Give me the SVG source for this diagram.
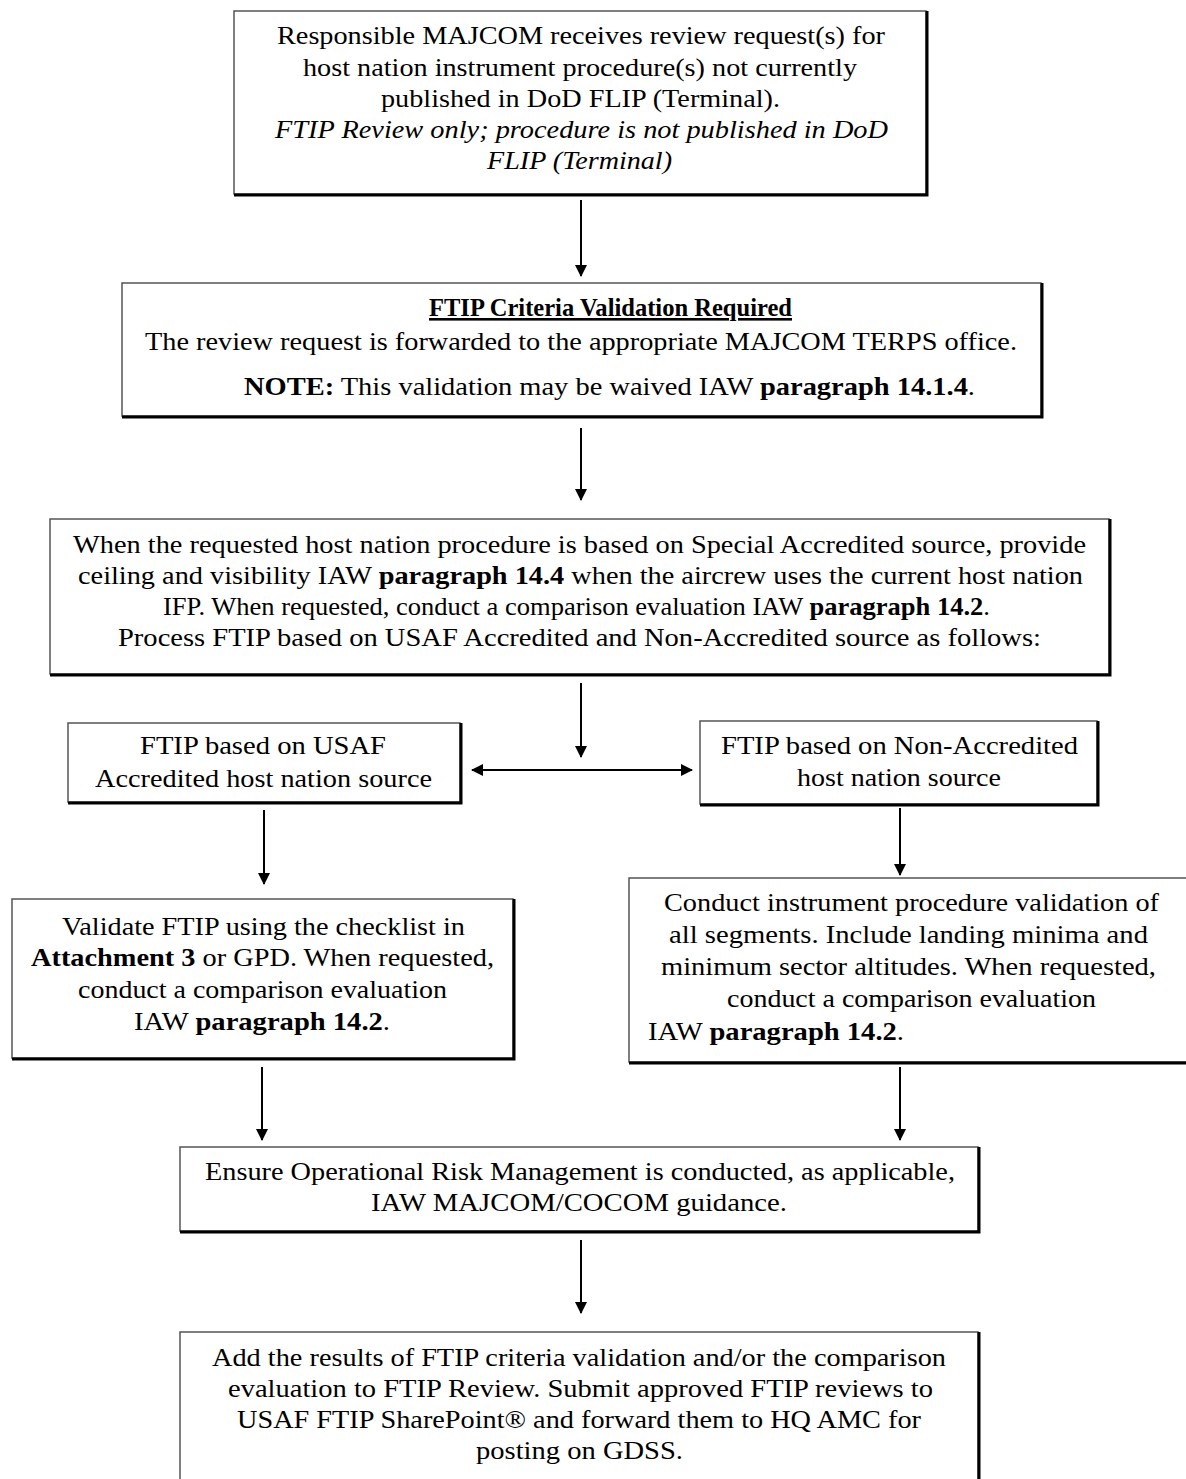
<svg xmlns="http://www.w3.org/2000/svg" width="1186" height="1479" viewBox="0 0 1186 1479" font-family="Liberation Serif, serif" font-size="26">
<defs>
<marker id="ah" markerWidth="12" markerHeight="12" viewBox="0 0 12 12" refX="11" refY="6" orient="auto" markerUnits="userSpaceOnUse">
<path d="M0,0 L12,6 L0,12 Z" fill="#000"/>
</marker>
<marker id="ahs" markerWidth="12" markerHeight="12" viewBox="0 0 12 12" refX="1" refY="6" orient="auto" markerUnits="userSpaceOnUse">
<path d="M12,0 L0,6 L12,12 Z" fill="#000"/>
</marker>
</defs>
<style>
.box{fill:#fff;stroke:#555;stroke-width:1.5}
.sh{fill:none;stroke:#000;stroke-width:3}
.b{font-weight:bold}
.i{font-style:italic}
.con{stroke:#000;stroke-width:2;fill:none}
</style>
<rect width="1186" height="1479" fill="#fff"/>

<g id="connectors">
<line class="con" x1="581" y1="200" x2="581" y2="276" marker-end="url(#ah)"/>
<line class="con" x1="581" y1="428" x2="581" y2="500" marker-end="url(#ah)"/>
<line class="con" x1="581" y1="683" x2="581" y2="757" marker-end="url(#ah)"/>
<line class="con" x1="472" y1="770" x2="692" y2="770" marker-start="url(#ahs)" marker-end="url(#ah)" stroke-width="3"/>
<line class="con" x1="264" y1="810" x2="264" y2="884" marker-end="url(#ah)"/>
<line class="con" x1="900" y1="808" x2="900" y2="875" marker-end="url(#ah)"/>
<line class="con" x1="262" y1="1067" x2="262" y2="1140" marker-end="url(#ah)"/>
<line class="con" x1="900" y1="1067" x2="900" y2="1140" marker-end="url(#ah)"/>
<line class="con" x1="581" y1="1240" x2="581" y2="1313" marker-end="url(#ah)"/>
</g>

<g id="n1">
<rect class="box" x="234" y="11" width="692" height="183"/>
<polyline class="sh" points="927,11 927,195 234,195"/>
<text x="277" y="44" textLength="608" lengthAdjust="spacingAndGlyphs">Responsible MAJCOM receives review request(s) for</text>
<text x="303" y="76" textLength="554" lengthAdjust="spacingAndGlyphs">host nation instrument procedure(s) not currently</text>
<text x="381" y="107" textLength="399" lengthAdjust="spacingAndGlyphs">published in DoD FLIP (Terminal).</text>
<text class="i" x="275" y="138" textLength="613" lengthAdjust="spacingAndGlyphs">FTIP Review only; procedure is not published in DoD</text>
<text class="i" x="487" y="169" textLength="185" lengthAdjust="spacingAndGlyphs">FLIP (Terminal)</text>
</g>

<g id="n2">
<rect class="box" x="122" y="283" width="919" height="133"/>
<polyline class="sh" points="1042,283 1042,417 122,417"/>
<text class="b" x="429" y="316" textLength="363" lengthAdjust="spacingAndGlyphs" text-decoration="underline">FTIP Criteria Validation Required</text>
<text x="145" y="350" textLength="872" lengthAdjust="spacingAndGlyphs">The review request is forwarded to the appropriate MAJCOM TERPS office.</text>
<text x="244" y="395" textLength="731" lengthAdjust="spacingAndGlyphs"><tspan class="b">NOTE:</tspan> This validation may be waived IAW <tspan class="b">paragraph 14.1.4</tspan>.</text>
</g>

<g id="n3">
<rect class="box" x="50" y="519" width="1059" height="155"/>
<polyline class="sh" points="1110,519 1110,675 50,675"/>
<text x="73" y="553" textLength="1013" lengthAdjust="spacingAndGlyphs">When the requested host nation procedure is based on Special Accredited source, provide</text>
<text x="78" y="584" textLength="1005" lengthAdjust="spacingAndGlyphs">ceiling  and visibility IAW <tspan class="b">paragraph 14.4</tspan> when the aircrew uses the current host nation</text>
<text x="163" y="615" textLength="827" lengthAdjust="spacingAndGlyphs">IFP. When requested, conduct a comparison evaluation IAW <tspan class="b">paragraph 14.2</tspan>.</text>
<text x="118" y="646" textLength="923" lengthAdjust="spacingAndGlyphs">Process FTIP based on USAF Accredited and Non-Accredited source as follows:</text>
</g>

<g id="n4">
<rect class="box" x="68" y="723" width="392" height="79"/>
<polyline class="sh" points="461,723 461,803 68,803"/>
<text x="140" y="754" textLength="246" lengthAdjust="spacingAndGlyphs">FTIP based on USAF</text>
<text x="95" y="787" textLength="337" lengthAdjust="spacingAndGlyphs">Accredited host nation source</text>
</g>

<g id="n5">
<rect class="box" x="700" y="721" width="397" height="83"/>
<polyline class="sh" points="1098,721 1098,805 700,805"/>
<text x="721" y="754" textLength="357" lengthAdjust="spacingAndGlyphs">FTIP based on Non-Accredited</text>
<text x="797" y="786" textLength="204" lengthAdjust="spacingAndGlyphs">host nation source</text>
</g>

<g id="n6">
<rect class="box" x="12" y="899" width="501" height="159"/>
<polyline class="sh" points="514,899 514,1059 12,1059"/>
<text x="62" y="935" textLength="403" lengthAdjust="spacingAndGlyphs">Validate FTIP using the checklist in</text>
<text x="31" y="966" textLength="463" lengthAdjust="spacingAndGlyphs"><tspan class="b">Attachment 3</tspan> or GPD. When requested,</text>
<text x="78" y="998" textLength="369" lengthAdjust="spacingAndGlyphs">conduct a comparison evaluation</text>
<text x="134" y="1030" textLength="256" lengthAdjust="spacingAndGlyphs">IAW <tspan class="b">paragraph 14.2</tspan>.</text>
</g>

<g id="n7">
<rect class="box" x="629" y="878" width="560" height="184"/>
<polyline class="sh" points="1186,1063 629,1063"/>
<text x="664" y="911" textLength="495" lengthAdjust="spacingAndGlyphs">Conduct instrument procedure validation of</text>
<text x="669" y="943" textLength="479" lengthAdjust="spacingAndGlyphs">all segments. Include landing minima and</text>
<text x="661" y="975" textLength="495" lengthAdjust="spacingAndGlyphs">minimum  sector altitudes. When requested,</text>
<text x="727" y="1007" textLength="369" lengthAdjust="spacingAndGlyphs">conduct a comparison evaluation</text>
<text x="648" y="1040" textLength="256" lengthAdjust="spacingAndGlyphs">IAW <tspan class="b">paragraph 14.2</tspan>.</text>
</g>

<g id="n8">
<rect class="box" x="180" y="1147" width="798" height="84"/>
<polyline class="sh" points="979,1147 979,1232 180,1232"/>
<text x="205" y="1180" textLength="750" lengthAdjust="spacingAndGlyphs">Ensure Operational Risk Management is conducted, as applicable,</text>
<text x="371" y="1211" textLength="416" lengthAdjust="spacingAndGlyphs">IAW MAJCOM/COCOM guidance.</text>
</g>

<g id="n9">
<rect class="box" x="180" y="1332" width="798" height="160"/>
<polyline class="sh" points="979,1332 979,1479"/>
<text x="212" y="1366" textLength="734" lengthAdjust="spacingAndGlyphs">Add the results of FTIP criteria validation and/or the comparison</text>
<text x="228" y="1397" textLength="705" lengthAdjust="spacingAndGlyphs">evaluation to FTIP Review. Submit approved FTIP reviews to</text>
<text x="237" y="1428" textLength="684" lengthAdjust="spacingAndGlyphs">USAF FTIP SharePoint® and forward them to HQ AMC for</text>
<text x="476" y="1459" textLength="207" lengthAdjust="spacingAndGlyphs">posting on GDSS.</text>
</g>
</svg>
